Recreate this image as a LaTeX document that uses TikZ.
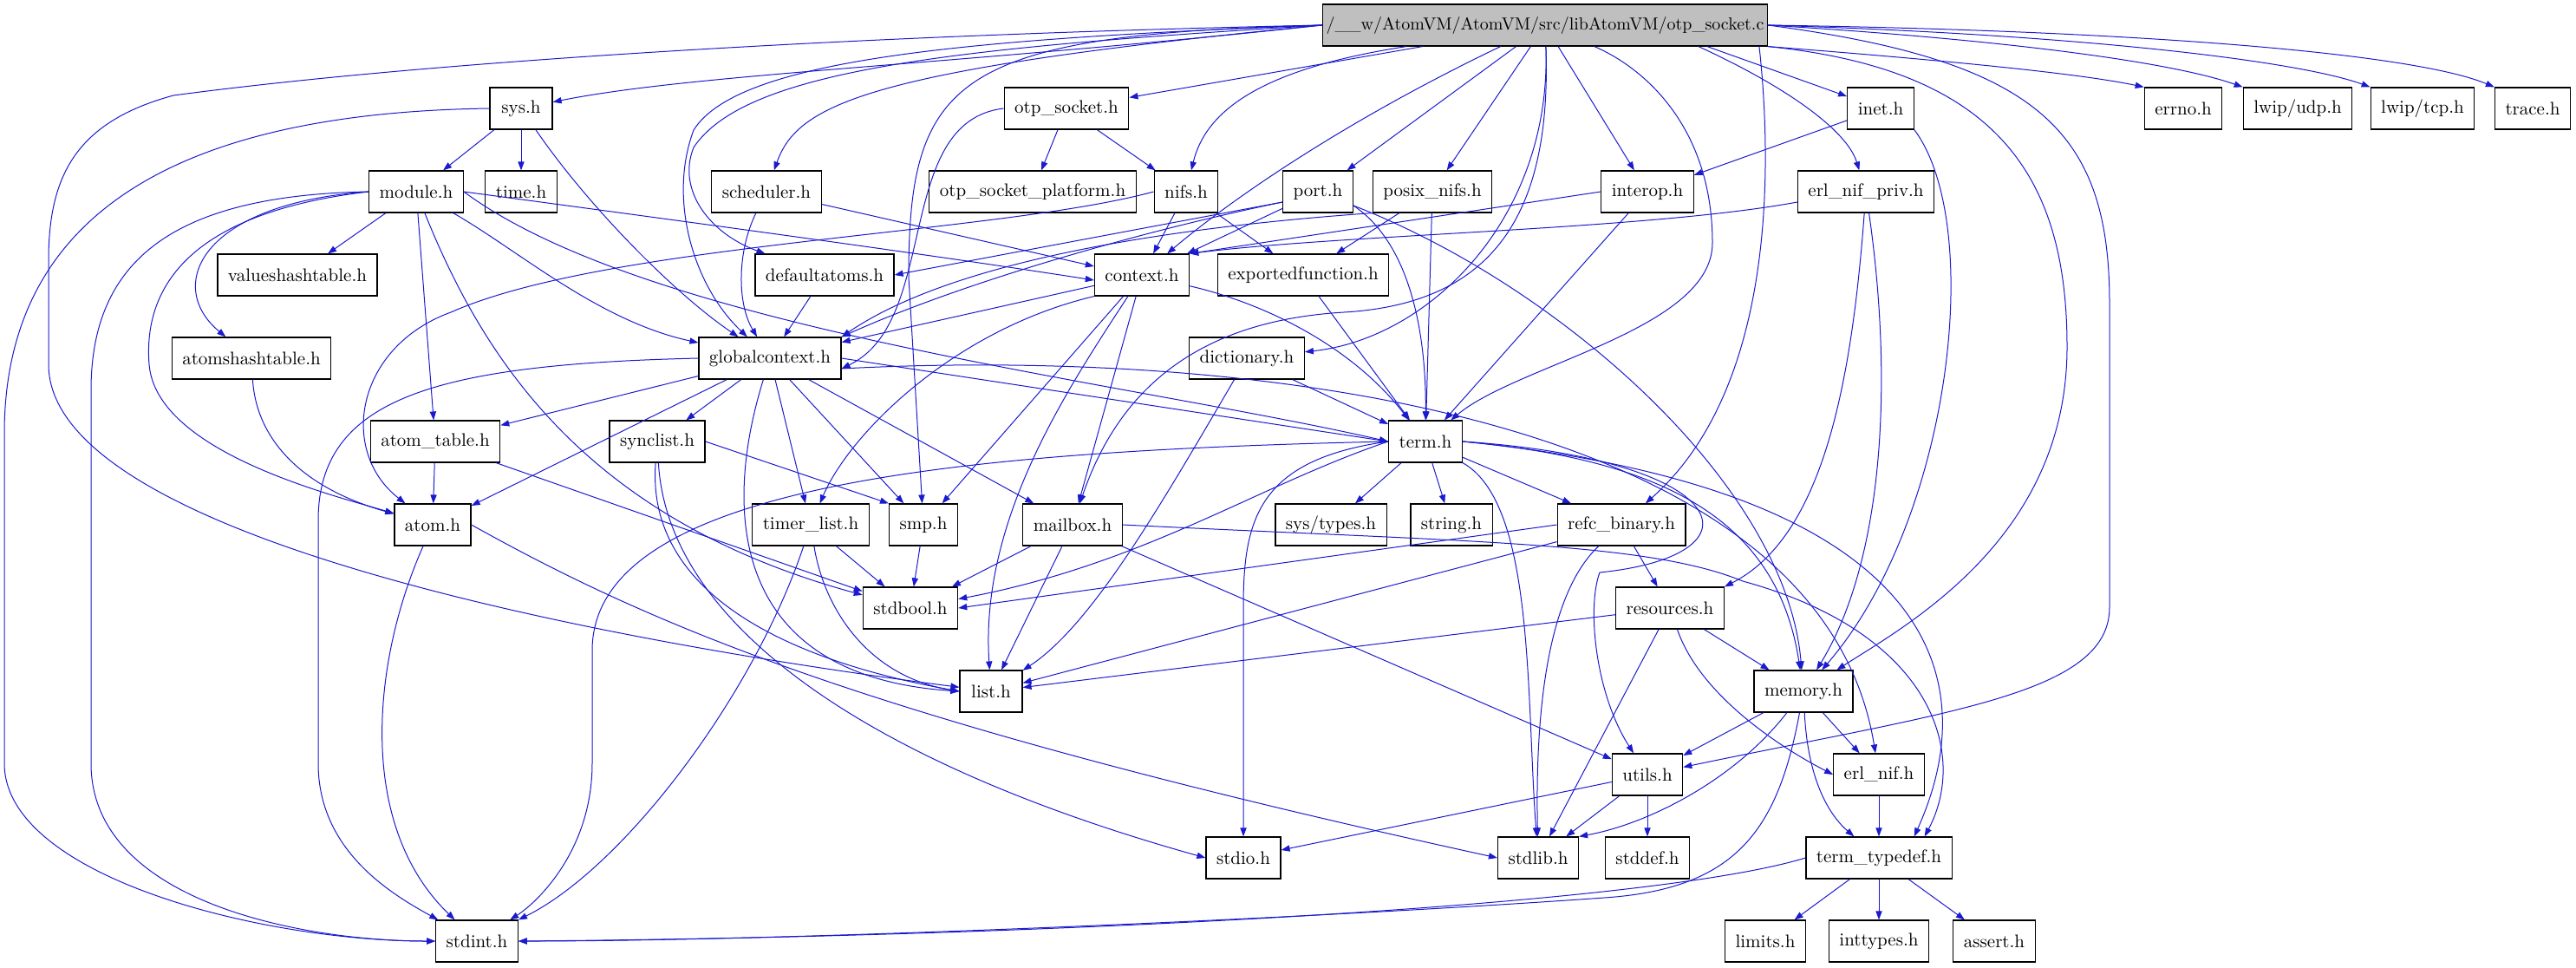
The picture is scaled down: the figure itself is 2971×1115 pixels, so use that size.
\documentclass[tikz,border=0pt]{standalone}
\usepackage{fontspec}
\usetikzlibrary{arrows.meta}
\definecolor{incblue}{RGB}{26,26,206}
\definecolor{srcgray}{RGB}{191,191,191}

\begin{document}
\begin{tikzpicture}[x=0.5pt,y=-0.5pt,
  hdr/.style={draw,fill=white,line width=0.6pt,rectangle,minimum height=24pt,
    minimum width=36pt,inner xsep=6pt,font=\fontsize{10.5}{12}\selectfont},
  inc/.style={draw=incblue,line width=0.5pt,-{Triangle[length=5pt,width=3.6pt]}}]
\useasboundingbox (0,0) rectangle (2971,1115);

\node[hdr,fill=srcgray,inner xsep=2pt,font=\fontsize{10}{12}\selectfont] (src) at (1782,29) {/\_\_w/AtomVM/AtomVM/src/libAtomVM/otp\_socket.c};

\node[hdr] (sys) at (601,125) {sys.h};
\node[hdr] (otpsocket) at (1230,125) {otp\_socket.h};
\node[hdr] (inet) at (2169,125) {inet.h};
\node[hdr] (errno) at (2518,125) {errno.h};
\node[hdr] (udp) at (2650,125) {lwip/udp.h};
\node[hdr] (tcp) at (2794,125) {lwip/tcp.h};
\node[hdr] (trace) at (2921,125) {trace.h};

\node[hdr] (module) at (480,221) {module.h};
\node[hdr] (time) at (601,221) {time.h};
\node[hdr] (scheduler) at (884,221) {scheduler.h};
\node[hdr] (platform) at (1191,221) {otp\_socket\_platform.h};
\node[hdr] (nifs) at (1368,221) {nifs.h};
\node[hdr] (port) at (1520,221) {port.h};
\node[hdr] (posixnifs) at (1652,221) {posix\_nifs.h};
\node[hdr] (interop) at (1900,221) {interop.h};
\node[hdr] (nifpriv) at (2152,221) {erl\_nif\_priv.h};

\node[hdr] (valueshash) at (343,317) {valueshashtable.h};
\node[hdr] (defaultatoms) at (951,317) {defaultatoms.h};
\node[hdr] (context) at (1317,317) {context.h};
\node[hdr] (exported) at (1503,317) {exportedfunction.h};

\node[hdr] (atomshash) at (290,413) {atomshashtable.h};
\node[hdr] (globalctx) at (888,413) {globalcontext.h};
\node[hdr] (dictionary) at (1438,413) {dictionary.h};

\node[hdr] (atomtable) at (502,509) {atom\_table.h};
\node[hdr] (synclist) at (758,509) {synclist.h};
\node[hdr] (term) at (1644,509) {term.h};

\node[hdr] (atom) at (499,605) {atom.h};
\node[hdr] (timerlist) at (935,605) {timer\_list.h};
\node[hdr] (smp) at (1065,605) {smp.h};
\node[hdr] (mailbox) at (1237,605) {mailbox.h};
\node[hdr] (systypes) at (1535,605) {sys/types.h};
\node[hdr] (string) at (1674,605) {string.h};
\node[hdr] (refc) at (1870,605) {refc\_binary.h};

\node[hdr] (stdbool) at (1050,701) {stdbool.h};
\node[hdr] (resources) at (1926,701) {resources.h};

\node[hdr] (list) at (1143,797) {list.h};
\node[hdr] (memory) at (2080,797) {memory.h};

\node[hdr] (utils) at (1900,893) {utils.h};
\node[hdr] (erlnif) at (2167,893) {erl\_nif.h};

\node[hdr] (stdio) at (1434,989) {stdio.h};
\node[hdr] (stdlib) at (1774,989) {stdlib.h};
\node[hdr] (stddef) at (1900,989) {stddef.h};
\node[hdr] (termtypedef) at (2167,989) {term\_typedef.h};

\node[hdr] (stdint) at (550,1085) {stdint.h};
\node[hdr] (limits) at (2036,1085) {limits.h};
\node[hdr] (inttypes) at (2167,1085) {inttypes.h};
\node[hdr] (assert) at (2300,1085) {assert.h};

% otp_socket.c
\draw[inc] (src.west) .. controls (1100,75) and (800,85) .. (sys);
\draw[inc] (src.west) .. controls (1000,40) and (500,70) .. (200,110) .. controls (90,140) and (56,200) .. (56,300) -- (56,420) .. controls (56,620) and (700,740) .. (list);
\draw[inc] (src.west) .. controls (1000,80) and (920,120) .. (scheduler);
\draw[inc] (src.west) .. controls (1100,45) and (850,70) .. (800,150) .. controls (770,230) and (800,330) .. (globalctx);
\draw[inc] (src.west) .. controls (1100,55) and (860,80) .. (800,170) .. controls (780,220) and (820,270) .. (defaultatoms);
\draw[inc] (src.west) .. controls (1100,40) and (1048,90) .. (1048,320) -- (smp);
\draw[inc] (src) .. controls (1550,140) and (1420,230) .. (context);
\draw[inc] (src) .. controls (1450,80) and (1390,130) .. (nifs);
\draw[inc] (src) -- (otpsocket);
\draw[inc] (src) -- (port);
\draw[inc] (src) -- (posixnifs);
\draw[inc] (src) -- (interop);
\draw[inc] (src) .. controls (1790,250) and (1650,390) .. (dictionary);
\draw[inc] (src) .. controls (1790,250) and (1720,350) .. (1550,360) .. controls (1380,370) and (1290,450) .. (mailbox);
\draw[inc] (src) .. controls (1900,80) and (1975,150) .. (1975,280) .. controls (1975,380) and (1750,420) .. (term);
\draw[inc] ([xshift=-35pt]src.south east) -- (inet);
\draw[inc] ([xshift=-40pt]src.south east) .. controls (2060,100) and (2130,150) .. (nifpriv);
\draw[inc] ([xshift=-5pt]src.south east) .. controls (2045,200) and (2045,450) .. (refc);
\draw[inc] (src.south east) .. controls (2300,80) and (2384,200) .. (2384,400) .. controls (2384,620) and (2200,720) .. (memory);
\draw[inc] (src.east) .. controls (2350,70) and (2433,150) .. (2433,350) -- (2433,700) .. controls (2433,800) and (2250,820) .. (utils);
\draw[inc] (src.south east) .. controls (2250,70) and (2400,85) .. (errno.north west);
\draw[inc] (src.east) .. controls (2300,45) and (2500,70) .. (udp.north west);
\draw[inc] (src.east) .. controls (2400,40) and (2650,70) .. (tcp.north west);
\draw[inc] (src.east) .. controls (2450,35) and (2780,60) .. (trace.north west);

\draw[inc] (sys) -- (module);
\draw[inc] (sys) -- (time);
\draw[inc] (sys) .. controls (680,240) and (780,340) .. (globalctx);
\draw[inc] (sys.west) .. controls (200,130) and (5,250) .. (5,500) -- (5,880) .. controls (5,1010) and (300,1085) .. (stdint);

\draw[inc] (module) -- (valueshash);
\draw[inc] (module.west) .. controls (230,235) and (190,330) .. (atomshash);
\draw[inc] (module.west) .. controls (220,245) and (165,330) .. (172,420) .. controls (180,520) and (380,570) .. (atom);
\draw[inc] (module.west) .. controls (200,225) and (105,300) .. (105,450) -- (105,880) .. controls (105,1040) and (350,1085) .. (stdint);
\draw[inc] (module) -- (atomtable);
\draw[inc] (module) .. controls (560,420) and (680,600) .. (stdbool);
\draw[inc] (module) .. controls (600,290) and (690,370) .. (globalctx);
\draw[inc] (module.east) .. controls (750,250) and (1050,290) .. ([yshift=-3pt]context.west);
\draw[inc] (module.east) .. controls (750,380) and (1300,440) .. (term.west);

\draw[inc] (scheduler) .. controls (850,290) and (850,350) .. (globalctx);
\draw[inc] (scheduler) -- ([yshift=5pt]context.west);
\draw[inc] (defaultatoms) -- (globalctx);

\draw[inc] (otpsocket) -- (platform);
\draw[inc] (otpsocket) -- (nifs);
\draw[inc] (otpsocket.west) .. controls (1030,140) and (1085,370) .. ([yshift=-6pt]globalctx.east);

\draw[inc] (nifs.west) .. controls (1150,270) and (700,280) .. (520,360) .. controls (410,400) and (390,520) .. (atom);
\draw[inc] (nifs) -- (context);
\draw[inc] (nifs) -- (exported);

\draw[inc] ([yshift=-6pt]port.west) -- (defaultatoms.east);
\draw[inc] ([yshift=-6pt]port.west) .. controls (1300,270) and (1100,330) .. (globalctx.north east);
\draw[inc] (port) -- (context);
\draw[inc] ([yshift=-8pt]port.east) .. controls (1625,280) and (1645,380) .. (term);
\draw[inc] ([yshift=-8pt]port.east) .. controls (1800,330) and (2060,560) .. (memory);

\draw[inc] (posixnifs) -- (exported);
\draw[inc] (posixnifs) -- (term);
\draw[inc] (posixnifs.south west) .. controls (1350,262) and (1100,300) .. (globalctx.north east);

\draw[inc] (interop.west) -- (context.north east);
\draw[inc] (interop) -- (term);

\draw[inc] (inet) -- (interop);
\draw[inc] (inet.south east) .. controls (2290,260) and (2250,600) .. (memory);

\draw[inc] ([yshift=-6pt]nifpriv.west) .. controls (1900,265) and (1550,270) .. (context.north east);
\draw[inc] (nifpriv) .. controls (2135,450) and (2100,620) .. (resources.north east);
\draw[inc] (nifpriv) .. controls (2185,450) and (2170,650) .. (memory);

\draw[inc] (context) -- (globalctx);
\draw[inc] (context) .. controls (1230,450) and (1130,600) .. (list);
\draw[inc] (context) -- (mailbox);
\draw[inc] (context) -- (smp);
\draw[inc] (context.south west) .. controls (1100,380) and (980,500) .. (timerlist);
\draw[inc] (context) .. controls (1460,350) and (1560,400) .. (term);

\draw[inc] (exported) -- (term);
\draw[inc] (dictionary) -- (term);
\draw[inc] (dictionary) .. controls (1340,580) and (1260,720) .. (list);

\draw[inc] (globalctx.west) .. controls (500,420) and (367,460) .. (367,600) -- (367,880) .. controls (367,980) and (450,1030) .. (stdint);
\draw[inc] (globalctx) -- (atomtable);
\draw[inc] (globalctx) -- (atom);
\draw[inc] (globalctx) -- (synclist);
\draw[inc] (globalctx) -- (timerlist);
\draw[inc] (globalctx) .. controls (830,600) and (850,780) .. (list.west);
\draw[inc] (globalctx) -- (smp);
\draw[inc] (globalctx) -- (mailbox);
\draw[inc] (globalctx.east) -- (term.west);
\draw[inc] ([yshift=-6pt]globalctx.east) .. controls (1450,400) and (2100,480) .. (erlnif);

\draw[inc] (atomshash) .. controls (295,500) and (340,560) .. (atom);
\draw[inc] (atomtable) -- (atom);
\draw[inc] (atomtable) -- (stdbool);
\draw[inc] (synclist.east) -- (smp.north west);
\draw[inc] (synclist) .. controls (745,680) and (900,760) .. (list.west);
\draw[inc] (synclist) .. controls (770,720) and (1000,880) .. (stdio.west);
\draw[inc] (atom) .. controls (430,760) and (410,950) .. (stdint);
\draw[inc] (atom.east) .. controls (750,720) and (1000,830) .. (stdlib.west);

\draw[inc] (timerlist) .. controls (950,700) and (1000,780) .. (list.west);
\draw[inc] (timerlist) .. controls (870,800) and (720,1000) .. (stdint.north east);
\draw[inc] (timerlist) -- (stdbool);
\draw[inc] (smp) -- (stdbool);

\draw[inc] (mailbox) -- (stdbool);
\draw[inc] (mailbox) -- (list);
\draw[inc] (mailbox) -- (utils);
\draw[inc] (mailbox.east) .. controls (1700,625) and (1900,625) .. (2010,670) .. controls (2230,730) and (2270,870) .. ([xshift=-16pt]termtypedef.north east);

\draw[inc] (term) -- (systypes);
\draw[inc] (term) -- (string);
\draw[inc] (term) -- (refc);
\draw[inc] (term.west) .. controls (1450,530) and (1434,600) .. (1434,700) -- (stdio);
\draw[inc] (term.west) .. controls (1450,560) and (1320,650) .. (stdbool);
\draw[inc] (term.west) .. controls (1100,520) and (683,560) .. (683,750) -- (683,880) .. controls (683,980) and (620,1040) .. (stdint);
\draw[inc] (term.south east) .. controls (1770,580) and (1760,800) .. (stdlib);
\draw[inc] (term.east) .. controls (2000,530) and (2040,640) .. (1845,660) .. controls (1830,700) and (1840,800) .. (utils);
\draw[inc] (term.east) .. controls (1920,530) and (2050,600) .. (memory);
\draw[inc] (term.east) .. controls (2200,560) and (2300,760) .. ([xshift=-22pt]termtypedef.north east);

\draw[inc] (refc) -- (resources);
\draw[inc] (refc.west) -- (stdbool.east);
\draw[inc] (refc) -- (list);
\draw[inc] (refc) .. controls (1790,680) and (1770,800) .. (stdlib);

\draw[inc] (resources) -- (list);
\draw[inc] (resources) -- (memory);
\draw[inc] (resources) -- (stdlib);
\draw[inc] (resources) .. controls (1960,800) and (2050,860) .. (erlnif.west);

\draw[inc] (memory) -- (utils);
\draw[inc] (memory) -- (erlnif);
\draw[inc] (memory) .. controls (2085,900) and (2110,940) .. (termtypedef);
\draw[inc] (memory) .. controls (2000,900) and (1900,950) .. (stdlib.north east);
\draw[inc] (memory) .. controls (2050,960) and (2000,1025) .. (1850,1035) .. controls (1500,1060) and (900,1085) .. (stdint.east);

\draw[inc] (utils) -- (stdio);
\draw[inc] (utils) -- (stdlib);
\draw[inc] (utils) -- (stddef);
\draw[inc] (erlnif) -- (termtypedef);

\draw[inc] (termtypedef.west) .. controls (1900,1045) and (1200,1080) .. (stdint.east);
\draw[inc] (termtypedef) -- (limits);
\draw[inc] (termtypedef) -- (inttypes);
\draw[inc] (termtypedef) -- (assert);

\end{tikzpicture}
\end{document}
